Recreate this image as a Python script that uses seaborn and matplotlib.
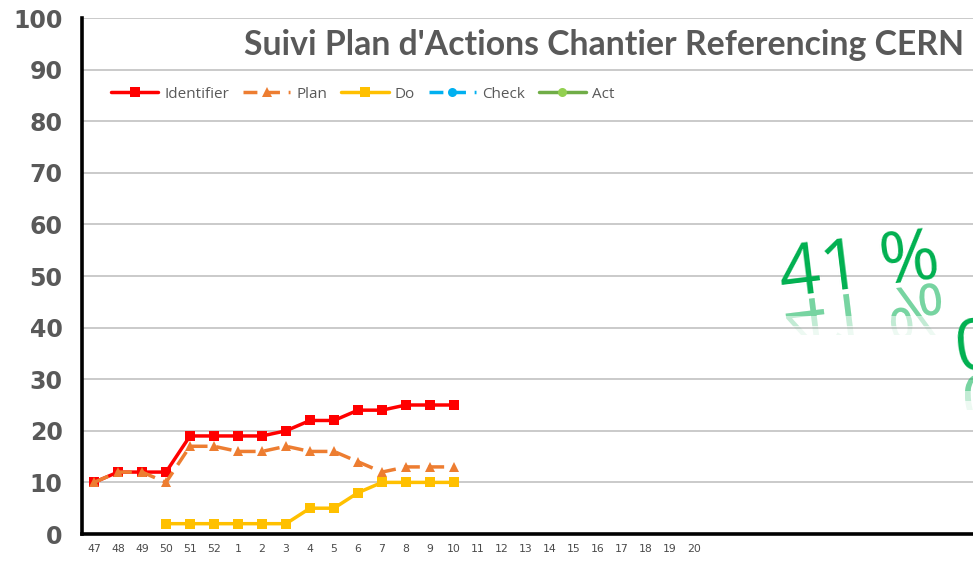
import numpy as np
import pandas as pd
import matplotlib as mpl
mpl.use("Agg")
import matplotlib.pyplot as plt
from matplotlib.lines import Line2D
from matplotlib.textpath import TextPath
from matplotlib.patches import PathPatch, Rectangle
from matplotlib.font_manager import FontProperties
from matplotlib import transforms
import seaborn as sns

# ---------------- data ----------------
weeks = ["47", "48", "49", "50", "51", "52", "1", "2", "3", "4", "5", "6", "7",
         "8", "9", "10", "11", "12", "13", "14", "15", "16", "17", "18", "19", "20"]
identifier = [10, 12, 12, 12, 19, 19, 19, 19, 20, 22, 22, 24, 24, 25, 25, 25]
plan = [10, 12, 12, 10, 17, 17, 16, 16, 17, 16, 16, 14, 12, 13, 13, 13]
do = [np.nan, np.nan, np.nan, 2, 2, 2, 2, 2, 2, 5, 5, 8, 10, 10, 10, 10]
check = []
act = []
y_ticks = [0, 10, 20, 30, 40, 50, 60, 70, 80, 90, 100]
title = "Suivi Plan d'Actions Chantier Referencing CERN"
big_labels = ["41 %", "0 %"]


def pad(vals):
    return list(vals) + [np.nan] * (len(weeks) - len(vals))


df = pd.DataFrame({
    "pos": range(len(weeks)),
    "week": weeks,
    "Identifier": pad(identifier),
    "Plan": pad(plan),
    "Do": pad(do),
})

# ---------------- style ----------------
sns.set_theme(style="white")
plt.rcParams["font.family"] = ["DejaVu Sans"]
GREY = "#595959"
W, H, DPI = 973, 561, 100

fig = plt.figure(figsize=(W / DPI, H / DPI), dpi=DPI)
# axes runs past the right edge of the picture, as in the cropped source
left_px, bottom_px, top_px, right_px = 82, 27, 18, 1000
ax = fig.add_axes([left_px / W, bottom_px / H,
                   (right_px - left_px) / W, (H - bottom_px - top_px) / H])

sns.lineplot(data=df, x="pos", y="Identifier", ax=ax, color="#FF0000",
             marker="s", markersize=7, markeredgewidth=0, linewidth=2.5,
             estimator=None, sort=False)
sns.lineplot(data=df, x="pos", y="Plan", ax=ax, color="#ED7D31",
             marker="^", markersize=7.5, markeredgewidth=0, linewidth=2.5,
             linestyle=(0, (4.5, 2.5)), estimator=None, sort=False)
sns.lineplot(data=df, x="pos", y="Do", ax=ax, color="#FFC000",
             marker="s", markersize=6.5, markeredgewidth=0, linewidth=2.5,
             estimator=None, sort=False)

# axes cosmetics
ax.set_xlim(-0.5, -0.5 + (right_px - left_px) / 24)
ax.set_ylim(0, 100)
ax.set_yticks(y_ticks)
ax.set_yticklabels([str(v) for v in y_ticks], fontsize=17, fontweight="bold", color=GREY)
ax.set_xticks(df["pos"])
ax.set_xticklabels(weeks, fontsize=7.8, color="#4a4a4a")
ax.tick_params(axis="y", length=0, pad=14)
ax.tick_params(axis="x", length=0, pad=7.5)
ax.set_xlabel("")
ax.set_ylabel("")
ax.yaxis.grid(True, color="#C6C6C6", linewidth=1.3)
ax.xaxis.grid(False)
ax.set_axisbelow(True)
for side in ["top", "right"]:
    ax.spines[side].set_visible(False)
for side in ["left", "bottom"]:
    ax.spines[side].set_color("black")
    ax.spines[side].set_linewidth(2.6)

# legend (Check / Act have no points yet)
handles = [
    Line2D([], [], color="#FF0000", lw=2.5, marker="s", ms=7, mew=0),
    Line2D([], [], color="#ED7D31", lw=2.5, ls=(0, (4, 2.5)), marker="^", ms=7.5, mew=0),
    Line2D([], [], color="#FFC000", lw=2.5, marker="s", ms=6.5, mew=0),
    Line2D([], [], color="#00B0F0", lw=2.5, ls=(0, (4, 2.5)), marker="o", ms=6.5, mew=0),
    Line2D([], [], color="#70AD47", lw=2.5, marker="o", ms=6.5, mew=0, mfc="#92D050"),
]
leg = fig.legend(handles, ["Identifier", "Plan", "Do", "Check", "Act"],
                 loc="center left", bbox_to_anchor=(111 / W, 1 - 94 / H),
                 ncol=5, frameon=False, handlelength=3.1,
                 handletextpad=0.4, columnspacing=0.9, borderpad=0,
                 borderaxespad=0,
                 prop=FontProperties(family="Open Sans", size=11))
for t in leg.get_texts():
    t.set_color(GREY)

# title
fig.text(604 / W, 1 - 45 / H, title, ha="center", va="center",
         fontsize=24.3, fontweight="bold", color=GREY, family=["Lato", "DejaVu Sans"])

# big green progress figures with a faded reflection
GREEN = "#00B050"
angle = 7
big_fs = 52
fp = FontProperties(family="Open Sans", size=big_fs)


def big_label(txt, x_px, y_px):
    fig.text(x_px / W, y_px / H, txt, ha="left", va="baseline", rotation=angle,
             rotation_mode="anchor", fontsize=big_fs, color=GREEN,
             family=["Open Sans", "DejaVu Sans"])
    size_px = big_fs * DPI / 72
    path = TextPath((0, 0), txt, size=size_px, prop=fp)
    base = (transforms.Affine2D().scale(1, -1).translate(0, -5)
            .rotate_deg(angle).translate(x_px, y_px))
    tr = base + transforms.IdentityTransform()
    for y0, y1, a in [(-0.16, 0.1, 0.38), (-0.3, -0.16, 0.18), (-0.42, -0.3, 0.07)]:
        refl = PathPatch(path, transform=tr, color=GREEN, alpha=a, lw=0)
        # clip band in mirrored text space (y is flipped by the transform)
        clip = Rectangle((-20, -y1 * size_px), 500, (y1 - y0) * size_px,
                         transform=tr, visible=False)
        fig.add_artist(clip)
        refl.set_clip_path(clip)
        fig.add_artist(refl)


big_label(big_labels[0], 782, H - 297)
big_label(big_labels[1], 958, H - 372)

fig.savefig("out.png", dpi=DPI)
